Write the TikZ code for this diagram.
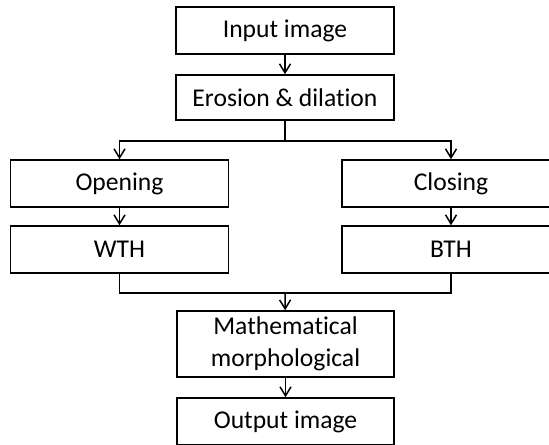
\documentclass[tikz,border=0pt]{standalone}
\usepackage{fontspec}
\setmainfont{Carlito}[Ligatures=NoCommon]
\usepackage{tikz}
\usetikzlibrary{arrows.meta,calc}

\begin{document}
\begin{tikzpicture}[x=0.5pt,y=-0.5pt,
edge/.style={-{Straight Barb[length=4.5pt,width=5.5pt]},line width=.75pt},
link/.style={line width=.75pt},
place/.style={rectangle,draw=black,line width=.75pt,align=center,inner sep=0pt,
  font=\fontsize{12.8}{16}\selectfont,minimum width=109pt,minimum height=23.5pt}]

\clip (0,0) rectangle (549,444);
\useasboundingbox (0,0) rectangle (549,444);

\node (INPUT) at (285,30.5) [place] {Input image};
\node (EROSION) at (285,97.5) [place,minimum height=22.5pt] {Erosion \& dilation};

\node (OPENING) at (119.5,183.5) [place] {Opening};
\node (WTH) at (119.5,249.5) [place] {WTH};

\node (CLOSING) at (451,183.5) [place] {Closing};
\node (BTH) at (451,249.5) [place] {BTH};

\node (MATH) at (285.5,344) [place,minimum width=108.5pt,minimum height=33pt] {Mathematical\\morphological};
\node (OUTPUT) at (285.5,421.5) [place,minimum width=108.5pt] {Output image};

\coordinate (SPLIT) at (285,141);
\coordinate (MERGE) at (285,293);

\draw[edge] (INPUT) -- (EROSION);
\draw[link] (EROSION) -- (SPLIT);
\draw[edge] (SPLIT) -| (OPENING.north);
\draw[edge] (SPLIT) -| (CLOSING.north);

\draw[edge] (OPENING) -- (WTH);
\draw[edge] (CLOSING) -- (BTH);

\draw[link] (WTH.south) |- (MERGE);
\draw[link] (BTH.south) |- (MERGE);
\draw[edge] (MERGE) -- (MATH);
\draw[edge] (MATH) -- (OUTPUT);

\end{tikzpicture}
\end{document}
